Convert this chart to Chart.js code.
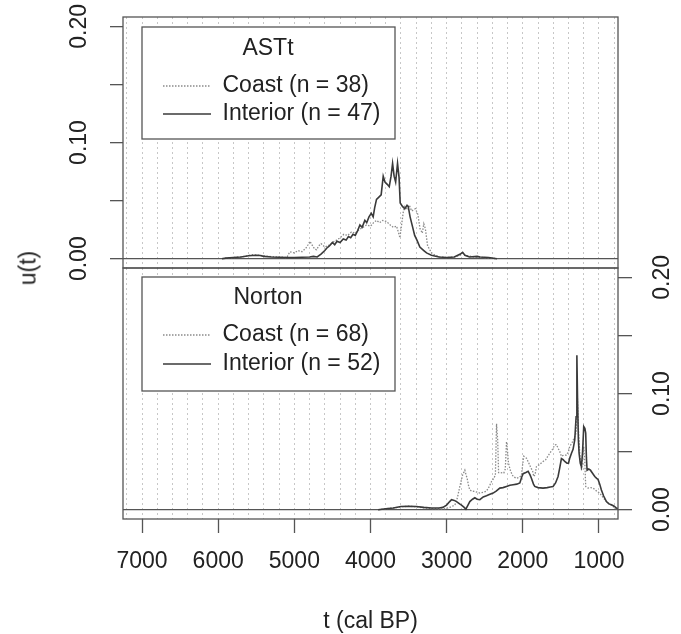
<!DOCTYPE html>
<html><head><meta charset="utf-8">
<script src="https://cdn.jsdelivr.net/npm/chart.js@4.4.1/dist/chart.umd.min.js"></script>
<style>
html,body{margin:0;padding:0;background:#fff;}
#wrap{position:relative;width:681px;height:634px;overflow:hidden;background:#fff;}
canvas{position:absolute;left:0;}
#c1{top:0;} #c2{top:240px;}
#ylab{position:absolute;left:28px;top:268px;width:0;height:0;}
#ylab span{position:absolute;left:0;top:0;transform:translate(-50%,-50%) rotate(-90deg);font:23px "Liberation Sans",Arial,sans-serif;color:#222;white-space:nowrap;line-height:1;}
</style></head>
<body><div id="wrap"><canvas id="c1" width="681" height="300"></canvas><canvas id="c2" width="681" height="394"></canvas><div id="ylab"><span>u(t)</span></div></div>
<script>
// ---- data ----
const xTickLabels = [7000, 6000, 5000, 4000, 3000, 2000, 1000];
const yTickValues = [0, 0.05, 0.10, 0.15, 0.20];
const yLabelValues = [0, 0.10, 0.20];
const panelTitles = ['ASTt', 'Norton'];
const asttLabels = ['Coast (n = 38)', 'Interior (n = 47)'];
const nortonLabels = ['Coast (n = 68)', 'Interior (n = 52)'];

const asttInteriorT = [5950,5900,5800,5700,5600,5500,5450,5400,5300,5200,5100,5000,4900,4800,4750,4700,4650,4600,4576,4540,4500,4470,4440,4400,4358,4320,4290,4260,4230,4200,4170,4139,4110,4074,4050,4020,3990,3965,3945,3921,3890,3860,3833,3810,3780,3754,3730,3710,3690,3670,3645,3625,3610,3580,3549,3520,3505,3480,3450,3420,3390,3352,3300,3264,3200,3100,3000,2900,2820,2790,2760,2700,2600,2560,2450,2340];
const asttInteriorU = [0,0.0005,0.001,0.0015,0.0025,0.003,0.0028,0.002,0.0015,0.0012,0.001,0.001,0.0012,0.0015,0.002,0.0015,0.004,0.007,0.009,0.011,0.014,0.012,0.015,0.014,0.017,0.016,0.019,0.018,0.021,0.020,0.024,0.029,0.027,0.033,0.031,0.036,0.039,0.036,0.044,0.051,0.053,0.055,0.071,0.066,0.064,0.062,0.071,0.082,0.071,0.066,0.082,0.070,0.048,0.045,0.043,0.046,0.045,0.036,0.028,0.020,0.016,0.010,0.007,0.005,0.003,0.0015,0.001,0.0015,0.004,0.0055,0.003,0.0015,0.002,0.0015,0.001,0];

const asttCoastT = [5950,5900,5800,5650,5550,5450,5350,5200,5100,5058,5000,4950,4900,4850,4820,4795,4760,4730,4707,4680,4650,4600,4533,4500,4445,4400,4350,4300,4250,4200,4150,4100,4052,4000,3960,3921,3880,3840,3789,3740,3700,3658,3630,3614,3590,3570,3550,3520,3490,3460,3438,3410,3378,3350,3320,3300,3280,3250,3198,3150,3090,3000,2900,2820,2790,2760,2650,2500,2340];
const asttCoastU = [0,0.0005,0.001,0.002,0.0035,0.003,0.002,0.0015,0.001,0.006,0.005,0.007,0.006,0.009,0.012,0.015,0.011,0.008,0.0077,0.011,0.013,0.010,0.012,0.014,0.016,0.018,0.021,0.020,0.023,0.022,0.025,0.027,0.029,0.028,0.031,0.033,0.031,0.033,0.032,0.029,0.027,0.028,0.022,0.018,0.030,0.040,0.045,0.043,0.046,0.041,0.042,0.043,0.038,0.026,0.022,0.030,0.026,0.011,0.005,0.003,0.0015,0.001,0.0015,0.003,0.005,0.003,0.0015,0.001,0];

const nortonInteriorT = [3900,3800,3700,3600,3500,3400,3300,3200,3100,3050,3001,2960,2936,2900,2870,2830,2805,2770,2748,2720,2696,2660,2630,2600,2564,2520,2477,2440,2390,2350,2302,2260,2214,2170,2127,2080,2039,2015,1996,1960,1930,1905,1887,1860,1843,1800,1734,1680,1640,1603,1570,1537,1515,1493,1470,1449,1420,1400,1385,1361,1340,1318,1300,1290,1280,1270,1261,1245,1230,1215,1200,1185,1174,1165,1156,1135,1112,1080,1055,1030,1012,990,968,940,902,870,836,800,771,750];
const nortonInteriorU = [0,0.0008,0.0015,0.0028,0.003,0.0028,0.002,0.0015,0.0015,0.002,0.004,0.007,0.0086,0.008,0.007,0.005,0.004,0.002,0.0005,0.004,0.007,0.009,0.0103,0.009,0.0086,0.011,0.012,0.013,0.0143,0.016,0.0186,0.019,0.020,0.021,0.0215,0.022,0.023,0.028,0.031,0.032,0.033,0.030,0.027,0.022,0.020,0.019,0.0186,0.019,0.0195,0.020,0.023,0.0286,0.036,0.044,0.043,0.0415,0.040,0.040,0.044,0.0486,0.052,0.060,0.080,0.133,0.090,0.060,0.0486,0.040,0.037,0.050,0.0715,0.070,0.066,0.045,0.034,0.035,0.034,0.031,0.0286,0.027,0.026,0.022,0.017,0.012,0.007,0.005,0.0043,0.003,0.0014,0.001];

const nortonCoastT = [3900,3800,3700,3600,3500,3400,3300,3200,3100,3046,2960,2892,2860,2827,2790,2761,2745,2731,2710,2696,2670,2630,2564,2520,2477,2440,2411,2380,2360,2345,2330,2318,2290,2250,2230,2214,2200,2188,2160,2127,2083,2040,2017,2000,1987,1952,1920,1900,1870,1856,1840,1821,1780,1734,1700,1646,1610,1580,1560,1537,1515,1493,1460,1427,1400,1384,1350,1318,1300,1283,1270,1252,1240,1230,1215,1200,1185,1174,1143,1110,1077,1030,990,940,902,860,819,780,753];
const nortonCoastU = [0,0.0008,0.0015,0.0025,0.003,0.0025,0.0015,0.001,0.0008,0.0005,0.002,0.004,0.010,0.020,0.030,0.034,0.030,0.027,0.020,0.017,0.016,0.0157,0.0143,0.015,0.016,0.020,0.0243,0.027,0.030,0.074,0.060,0.032,0.032,0.0315,0.035,0.0586,0.050,0.040,0.033,0.0286,0.027,0.028,0.030,0.040,0.046,0.0443,0.040,0.037,0.033,0.0286,0.030,0.037,0.039,0.0415,0.043,0.0486,0.052,0.0557,0.056,0.053,0.050,0.046,0.047,0.047,0.050,0.0543,0.058,0.063,0.066,0.097,0.070,0.0486,0.040,0.034,0.045,0.0543,0.040,0.020,0.0186,0.019,0.0186,0.016,0.0143,0.010,0.007,0.005,0.003,0.001,0];

// ---- setup ----
Chart.defaults.font.family = '"Liberation Sans", Arial, sans-serif';
Chart.defaults.font.size = 23;
Chart.defaults.color = '#222';

const gridYears = [];
for (let y = 7200; y >= 800; y -= 200) gridYears.push(y);

const FRAME = '#555';

function xScale(bottom) {
  return {
    type: 'linear', reverse: true, min: 750, max: 7250,
    afterBuildTicks: s => { s.ticks = gridYears.map(v => ({ value: v })); },
    afterFit: s => { s.height = bottom ? 115 : 0; s.paddingLeft = 0; s.paddingRight = 0; s.paddingTop = 0; s.paddingBottom = 0; },
    border: { display: false, dash: [2, 3] },
    grid: {
      drawOnChartArea: true, drawTicks: bottom, tickLength: 14,
      color: 'rgba(0,0,0,0.22)', lineWidth: 1,
      tickColor: c => xTickLabels.includes(c.tick && c.tick.value) ? FRAME : 'rgba(0,0,0,0)',
      tickWidth: 1.3, tickBorderDash: []
    },
    ticks: {
      display: bottom, autoSkip: false, maxRotation: 0, minRotation: 0, padding: 15,
      callback: v => xTickLabels.includes(v) ? String(v) : ''
    },
    title: bottom ? { display: true, text: 't (cal BP)', font: { size: 23, lineHeight: 1 }, padding: { top: 0, bottom: 1 } } : { display: false }
  };
}

function yScale(pos) {
  return {
    type: 'linear', position: pos, min: -0.008, max: 0.208,
    afterBuildTicks: s => { s.ticks = yTickValues.map(v => ({ value: v })); },
    afterFit: s => { s.width = pos === 'left' ? 123 : 63; s.paddingTop = 0; s.paddingBottom = 0; s.paddingLeft = 0; s.paddingRight = 0; },
    border: { display: false },
    grid: {
      drawOnChartArea: true, drawTicks: true, tickLength: pos === 'left' ? 13 : 14,
      color: c => (c.tick && Math.abs(c.tick.value) < 1e-9) ? FRAME : 'rgba(0,0,0,0)',
      lineWidth: 1.3, tickColor: FRAME, tickWidth: 1.3
    },
    ticks: {
      minRotation: 90, maxRotation: 90, crossAlign: 'center', padding: 8, autoSkip: false,
      callback: v => yLabelValues.some(l => Math.abs(l - v) < 1e-9) ? v.toFixed(2) : ''
    }
  };
}

function ds(label, T, U, coast) {
  return {
    label, data: T.map((t, i) => ({ x: t, y: U[i] })),
    borderColor: coast ? '#8a8a8a' : '#3a3a3a',
    borderWidth: coast ? 1.3 : 1.6,
    borderDash: coast ? [1.5, 1.5] : [],
    pointRadius: 0, pointStyle: 'line', tension: 0, fill: false,
    order: coast ? 1 : 0
  };
}

const panelPlugin = {
  id: 'panel',
  afterLayout(chart, args, o) {
    const lg = chart.legend, a = chart.chartArea;
    if (!lg) return;
    lg.top = a.top;
    lg.bottom = a.bottom;
    lg.left = a.left + o.lineStart - o.pad;
    lg.width = 2 * (a.left + o.titleCenter - lg.left);
  },
  afterDraw(chart, args, o) {
    const { ctx, chartArea: a } = chart;
    ctx.save();
    const b = o.box;
    ctx.fillStyle = '#fff';
    ctx.fillRect(a.left + b.dx, a.top + b.dy, b.w, b.h);
    ctx.strokeStyle = FRAME; ctx.lineWidth = 1.3;
    ctx.strokeRect(a.left + b.dx, a.top + b.dy, b.w, b.h);
    ctx.restore();
    chart.legend.draw();
    ctx.save();
    ctx.strokeStyle = FRAME; ctx.lineWidth = 1.3;
    ctx.strokeRect(a.left, a.top, a.right - a.left, a.bottom - a.top);
    ctx.restore();
  }
};

function legendCfg(title, tp, tb, p) {
  return {
    position: 'chartArea', align: 'start',
    title: { display: true, text: title, color: '#222', font: { size: 23 }, padding: { top: tp, bottom: tb }, position: 'center' },
    labels: {
      usePointStyle: true, pointStyle: 'line', pointStyleWidth: 48, boxHeight: 23, padding: p,
      color: '#222', font: { size: 23 },
      sort: (a, b) => a.datasetIndex - b.datasetIndex,
      generateLabels: chart => Chart.defaults.plugins.legend.labels.generateLabels(chart).map(it => {
        const d = chart.data.datasets[it.datasetIndex];
        return Object.assign(it, { lineDash: d.borderDash, strokeStyle: d.borderColor, lineWidth: d.borderWidth, pointStyle: 'line', fillStyle: 'rgba(0,0,0,0)' });
      })
    }
  };
}

new Chart(document.getElementById('c1'), {
  type: 'line',
  data: { datasets: [ds(asttLabels[0], asttCoastT, asttCoastU, true), ds(asttLabels[1], asttInteriorT, asttInteriorU, false)] },
  options: {
    responsive: false, animation: false, devicePixelRatio: 1, events: [],
    layout: { padding: { top: 17, right: 63, bottom: 32, left: 0 }, autoPadding: false },
    scales: { x: xScale(false), y: yScale('left') },
    plugins: {
      legend: legendCfg(panelTitles[0], 20, 4.9, 5),
      tooltip: { enabled: false },
      panel: { lineStart: 40, titleCenter: 145, pad: 5, box: { dx: 19, dy: 10, w: 253, h: 112 } }
    }
  },
  plugins: [panelPlugin]
});

new Chart(document.getElementById('c2'), {
  type: 'line',
  data: { datasets: [ds(nortonLabels[0], nortonCoastT, nortonCoastU, true), ds(nortonLabels[1], nortonInteriorT, nortonInteriorU, false)] },
  options: {
    responsive: false, animation: false, devicePixelRatio: 1, events: [],
    layout: { padding: { top: 28, right: 0, bottom: 0, left: 123 }, autoPadding: false },
    scales: { x: xScale(true), y: yScale('right') },
    plugins: {
      legend: legendCfg(panelTitles[1], 18.5, 3.4, 6),
      tooltip: { enabled: false },
      panel: { lineStart: 40, titleCenter: 145, pad: 6, box: { dx: 19, dy: 9, w: 253, h: 114 } }
    }
  },
  plugins: [panelPlugin]
});
</script>
</body></html>
